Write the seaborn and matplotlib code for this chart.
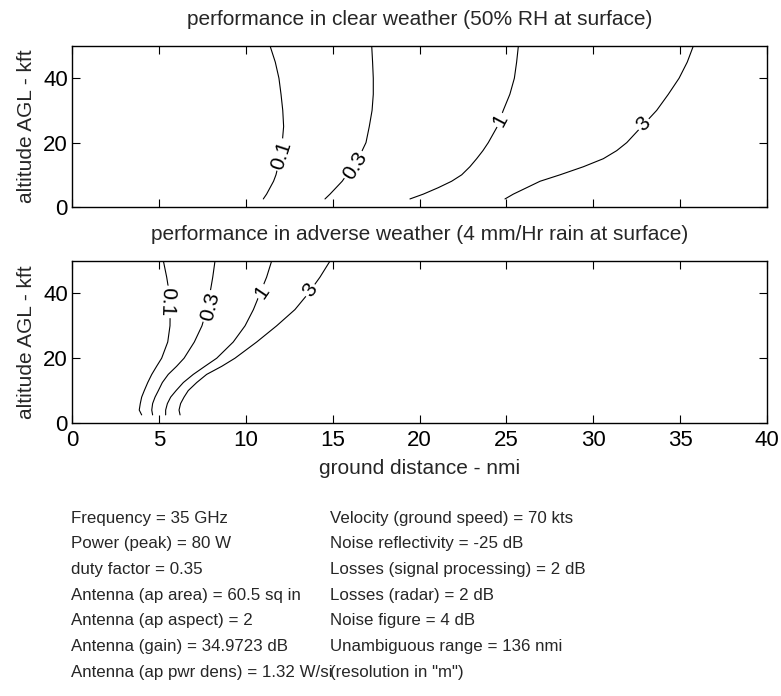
import matplotlib
matplotlib.use("Agg")
import matplotlib.pyplot as plt
import seaborn as sns
import pandas as pd

# Altitude samples (kft AGL) at which each contour's ground distance is given
altitude = [2.5, 4, 6, 8, 10, 12.5, 15, 17.5, 20, 25, 30, 35, 40, 45, 50]

levels = ["0.1", "0.3", "1", "3"]

# Clear weather (50% RH at surface): ground distance (nmi) per contour level
clear_01 = [11.01, 11.2, 11.4, 11.6, 11.74, 11.85, 11.95, 12.03, 12.1, 12.18, 12.13, 12.03, 11.91, 11.7, 11.4]
clear_03 = [14.56, 14.85, 15.2, 15.55, 15.81, 16.1, 16.4, 16.7, 16.92, 17.11, 17.27, 17.34, 17.34, 17.3, 17.25]
clear_1 = [19.45, 20.22, 21.08, 21.85, 22.43, 22.9, 23.29, 23.65, 23.96, 24.48, 24.82, 25.2, 25.46, 25.59, 25.69]
clear_3 = [24.92, 25.4, 26.17, 26.94, 28.09, 29.43, 30.58, 31.35, 31.93, 32.79, 33.65, 34.32, 34.94, 35.41, 35.76]

# Adverse weather (4 mm/Hr rain at surface)
rain_01 = [4.01, 3.87, 3.93, 4.01, 4.16, 4.36, 4.59, 4.87, 5.16, 5.51, 5.64, 5.65, 5.6, 5.45, 5.26]
rain_03 = [4.64, 4.59, 4.64, 4.78, 4.97, 5.2, 5.54, 6.02, 6.45, 7.04, 7.48, 7.75, 7.94, 8.1, 8.23]
rain_1 = [5.39, 5.39, 5.49, 5.68, 5.99, 6.41, 6.98, 7.65, 8.33, 9.28, 9.96, 10.44, 10.82, 11.2, 11.49]
rain_3 = [6.22, 6.16, 6.25, 6.45, 6.69, 7.18, 7.75, 8.62, 9.38, 10.63, 11.78, 12.83, 13.6, 14.27, 14.85]

# Inline contour labels: (distance, altitude, rotation)
clear_label_pos = [(12.07, 16.1, 72), (16.29, 12.8, 58), (24.63, 27.0, 62), (32.88, 25.8, 45)]
rain_label_pos = [(5.45, 37.4, -92), (7.94, 35.9, 76), (10.92, 40.5, 56), (13.7, 41.0, 54)]

x_ticks = [0, 5, 10, 15, 20, 25, 30, 35, 40]
y_ticks = [0, 20, 40]

params_left = [
    "Frequency = 35 GHz",
    "Power (peak) = 80 W",
    "duty factor = 0.35",
    "Antenna (ap area) = 60.5 sq in",
    "Antenna (ap aspect) = 2",
    "Antenna (gain) = 34.9723 dB",
    "Antenna (ap pwr dens) = 1.32 W/si",
]
params_right = [
    "Velocity (ground speed) = 70 kts",
    "Noise reflectivity = -25 dB",
    "Losses (signal processing) = 2 dB",
    "Losses (radar) = 2 dB",
    "Noise figure = 4 dB",
    "Unambiguous range = 136 nmi",
    '(resolution in "m")',
]

sns.set_style("ticks")
plt.rcParams["font.family"] = ["Liberation Sans", "DejaVu Sans"]
plt.rcParams["axes.linewidth"] = 1.0

W, H = 781, 696
fig = plt.figure(figsize=(W / 100, H / 100), dpi=100)
ax_top = fig.add_axes([72 / W, 1 - 207 / H, 695 / W, 161 / H])
ax_bot = fig.add_axes([72 / W, 1 - 423 / H, 695 / W, 162 / H])


def draw_panel(ax, series, label_pos, title):
    for lev, dist in zip(levels, series):
        df = pd.DataFrame({"dist": dist, "alt": altitude})
        sns.lineplot(data=df, x="dist", y="alt", sort=False, estimator=None,
                     color="black", lw=0.8, ax=ax)
    for lev, (lx, ly, rot) in zip(levels, label_pos):
        ax.text(lx, ly, lev, rotation=rot, rotation_mode="anchor",
                ha="center", va="center", fontsize=15, color="black",
                bbox=dict(boxstyle="square,pad=0.08", fc="white", ec="none"))
    ax.set_xlim(0, 40)
    ax.set_ylim(0, 50)
    ax.set_xticks(x_ticks)
    ax.set_yticks(y_ticks)
    ax.tick_params(direction="in", top=True, right=True, length=6, width=0.8,
                   labelsize=16, colors="black")
    ax.tick_params(axis="y", pad=3)
    ax.tick_params(axis="x", pad=5)
    for s in ax.spines.values():
        s.set_color("black")
    ax.set_ylabel("altitude AGL - kft", fontsize=15, labelpad=5)
    ax.set_xlabel("")
    ax.set_title(title, fontsize=15, pad=15)


draw_panel(ax_top, [clear_01, clear_03, clear_1, clear_3], clear_label_pos,
           "performance in clear weather (50% RH at surface)")
draw_panel(ax_bot, [rain_01, rain_03, rain_1, rain_3], rain_label_pos,
           "performance in adverse weather (4 mm/Hr rain at surface)")
ax_top.tick_params(labelbottom=False)
ax_bot.set_xlabel("ground distance - nmi", fontsize=15, labelpad=6)

# Parameter listing in two text columns below the plots
left_x, right_x = 71, 330
line_y0, line_dy = 518, 25.7
for i, (lt, rt) in enumerate(zip(params_left, params_right)):
    y = 1 - (line_y0 + i * line_dy) / H
    fig.text(left_x / W, y, lt, fontsize=12.2, va="center", ha="left")
    fig.text(right_x / W, y, rt, fontsize=12.2, va="center", ha="left")

fig.savefig("out.png", dpi=100, facecolor="white")
